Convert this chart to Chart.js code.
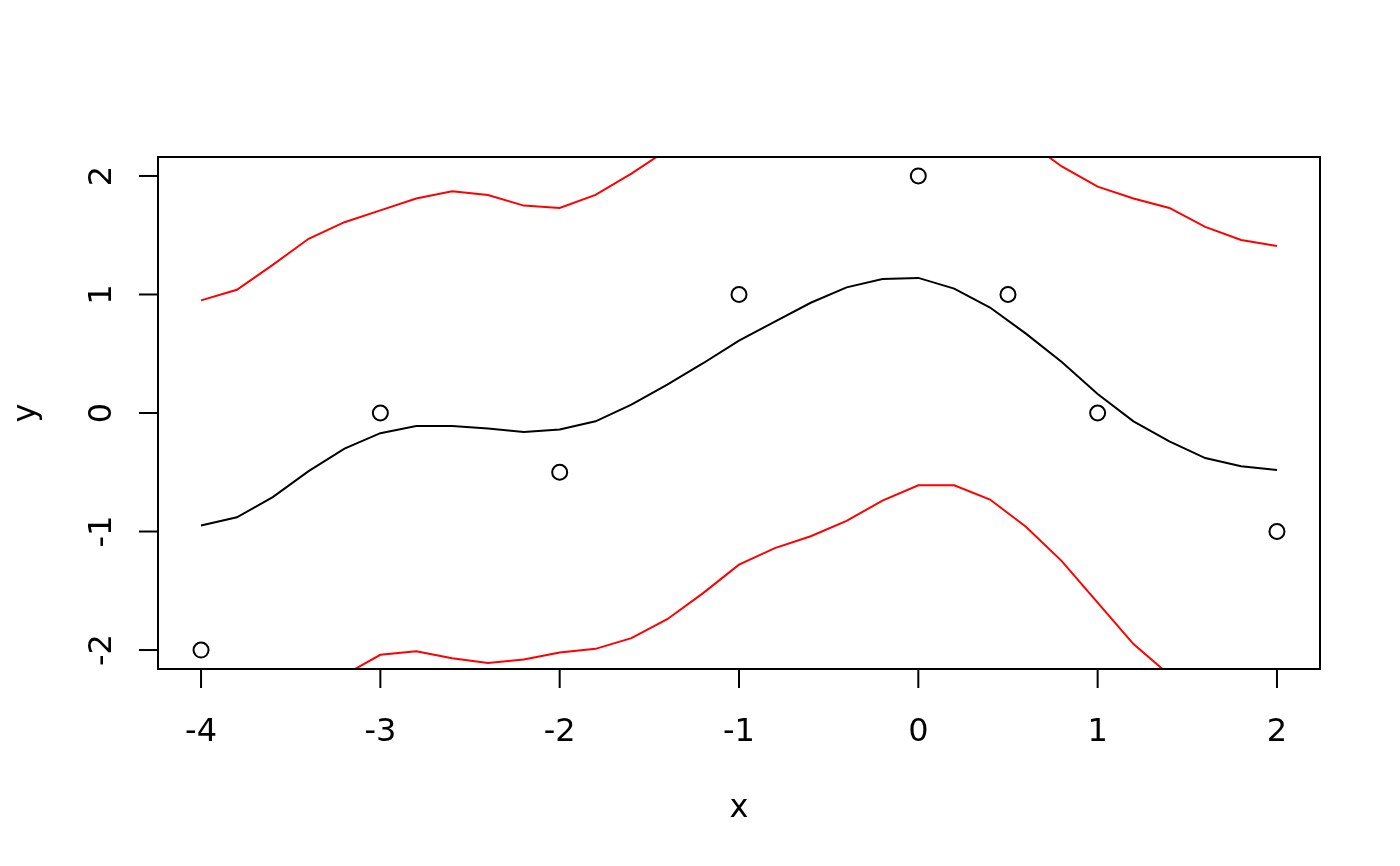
<!DOCTYPE html>
<html>
<head>
<meta charset="utf-8">
<script src="https://cdn.jsdelivr.net/npm/chart.js@4/dist/chart.umd.min.js"></script>
<style>
  html, body { margin: 0; padding: 0; background: #fff; }
  #wrap { width: 1400px; height: 866px; }
</style>
</head>
<body>
<div id="wrap"><canvas id="ourChart" width="1400" height="866"></canvas></div>
<script>
// observed points
let pointsX = [-4, -3, -2, -1, 0, 0.5, 1, 2];
let pointsY = [-2, 0, -0.5, 1, 2, 1, 0, -1];

// grid of the fitted curve
let gridX = [-4, -3.8, -3.6, -3.4, -3.2, -3, -2.8, -2.6, -2.4, -2.2, -2, -1.8, -1.6, -1.4, -1.2, -1,
             -0.8, -0.6, -0.4, -0.2, 0, 0.2, 0.4, 0.6, 0.8, 1, 1.2, 1.4, 1.6, 1.8, 2];

let fitY = [-0.95, -0.88, -0.71, -0.49, -0.30, -0.17, -0.11, -0.11, -0.13, -0.16, -0.14, -0.07, 0.07, 0.24, 0.42, 0.61,
            0.77, 0.93, 1.06, 1.13, 1.14, 1.05, 0.89, 0.67, 0.43, 0.16, -0.07, -0.24, -0.38, -0.45, -0.48];

let upperY = [0.95, 1.04, 1.25, 1.47, 1.61, 1.71, 1.81, 1.87, 1.84, 1.75, 1.73, 1.84, 2.02, 2.22, 2.36, 2.50,
              2.68, 2.90, 3.03, 3.00, 2.89, 2.71, 2.51, 2.30, 2.08, 1.91, 1.81, 1.73, 1.57, 1.46, 1.41];

let lowerY = [-2.85, -2.80, -2.67, -2.45, -2.21, -2.04, -2.01, -2.07, -2.11, -2.08, -2.02, -1.99, -1.90, -1.74, -1.52, -1.28,
              -1.14, -1.04, -0.91, -0.74, -0.61, -0.61, -0.73, -0.96, -1.25, -1.60, -1.95, -2.21, -2.33, -2.36, -2.37];

let xTicks = [-4, -3, -2, -1, 0, 1, 2];
let yTicks = [-2, -1, 0, 1, 2];
let xTitle = 'x';
let yTitle = 'y';

function toXY(xs, ys) {
    return xs.map((x, i) => ({ x: x, y: ys[i] }));
}

const FONT = '32px "DejaVu Sans"';

// R-style box axes drawn from the chart's own scales
const baseAxes = {
    id: 'baseAxes',
    afterDraw(chart) {
        const ctx = chart.ctx;
        const a = chart.chartArea;
        const sx = chart.scales.x;
        const sy = chart.scales.y;
        ctx.save();
        ctx.strokeStyle = '#000';
        ctx.fillStyle = '#000';
        ctx.lineWidth = 2;
        ctx.strokeRect(a.left, a.top, a.right - a.left, a.bottom - a.top);

        ctx.font = FONT;
        ctx.textAlign = 'center';
        ctx.textBaseline = 'alphabetic';
        xTicks.forEach(t => {
            const px = sx.getPixelForValue(t);
            ctx.beginPath();
            ctx.moveTo(px, a.bottom);
            ctx.lineTo(px, a.bottom + 19);
            ctx.stroke();
            ctx.fillText(String(t), px, a.bottom + 72);
        });
        yTicks.forEach(t => {
            const py = sy.getPixelForValue(t);
            ctx.beginPath();
            ctx.moveTo(a.left, py);
            ctx.lineTo(a.left - 19, py);
            ctx.stroke();
            ctx.save();
            ctx.translate(a.left - 47, py);
            ctx.rotate(-Math.PI / 2);
            ctx.fillText(String(t), 0, 0);
            ctx.restore();
        });
        ctx.fillText(xTitle, (a.left + a.right) / 2, a.bottom + 148);
        ctx.save();
        ctx.translate(a.left - 123, (a.top + a.bottom) / 2);
        ctx.rotate(-Math.PI / 2);
        ctx.fillText(yTitle, 0, 0);
        ctx.restore();
        ctx.restore();
    }
};

let ourCanvas = document.getElementById('ourChart');

const chartElement = new Chart(ourCanvas, {
    type: 'scatter',
    data: {
        datasets: [
            {
                label: 'points',
                data: toXY(pointsX, pointsY),
                pointStyle: 'circle',
                pointRadius: 7.5,
                pointBorderWidth: 2,
                pointBorderColor: '#000',
                pointBackgroundColor: 'rgba(0,0,0,0)',
                showLine: false
            },
            {
                label: 'fit',
                data: toXY(gridX, fitY),
                showLine: true,
                borderColor: '#000',
                borderWidth: 2,
                pointRadius: 0,
                tension: 0
            },
            {
                label: 'upper',
                data: toXY(gridX, upperY),
                showLine: true,
                borderColor: '#ff0000',
                borderWidth: 2,
                pointRadius: 0,
                tension: 0
            },
            {
                label: 'lower',
                data: toXY(gridX, lowerY),
                showLine: true,
                borderColor: '#ff0000',
                borderWidth: 2,
                pointRadius: 0,
                tension: 0
            }
        ]
    },
    options: {
        responsive: false,
        animation: false,
        devicePixelRatio: 1,
        layout: { padding: { left: 158, right: 80, top: 157, bottom: 197 } },
        plugins: {
            legend: { display: false },
            tooltip: { enabled: false }
        },
        scales: {
            x: { type: 'linear', display: false, min: -4.24, max: 2.24 },
            y: { type: 'linear', display: false, min: -2.16, max: 2.16 }
        }
    },
    plugins: [baseAxes]
});
</script>
</body>
</html>
